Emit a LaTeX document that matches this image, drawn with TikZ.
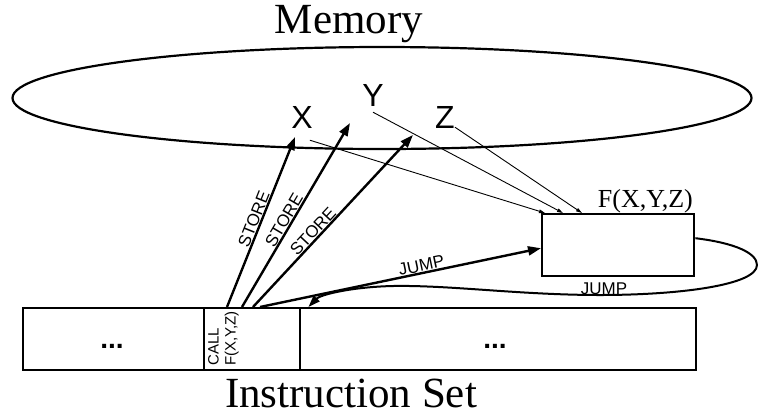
\documentclass[tikz,border=0pt]{standalone}
\usepackage{fontspec}
\setmainfont{Liberation Serif}
\setsansfont{Liberation Sans}
\usetikzlibrary{arrows.meta,shapes.geometric,calc}

\begin{document}
\begin{tikzpicture}[x=1pt,y=-1pt,
  cell/.style={draw, line width=2.4pt, rectangle, inner sep=0pt, anchor=north west, minimum height=62pt},
  var/.style={font=\sffamily\fontsize{32}{32}\selectfont, inner sep=0pt},
  tag/.style={font=\sffamily\fontsize{17}{17}\selectfont, inner sep=0.5pt},
  title/.style={font=\fontsize{43}{43}\selectfont, inner sep=0pt, anchor=base},
  dots/.style={font=\sffamily\bfseries\fontsize{28}{28}\selectfont, inner sep=0pt, anchor=base},
  bigarrow/.style={line width=2.4pt, -{Triangle[length=13pt,width=9pt]}},
  thinarrow/.style={line width=0.9pt, -{Triangle[length=6pt,width=3.5pt]}},
]
\useasboundingbox (0,0) rectangle (758,416);

% memory and its variables
\node[title] (memlabel) at (349,33) {Memory};
\node[draw, ellipse, line width=2.2pt, inner sep=0pt,
      minimum width=739pt, minimum height=102pt] (mem) at (382,98) {};
\node[var] (X) at (302,117) {X};
\node[var] (Y) at (373,95) {Y};
\node[var] (Z) at (445,117) {Z};

% the called function
\node[cell, minimum width=152pt] (fbox) at (541,213) {};
\node[font=\fontsize{26}{26}\selectfont, inner sep=0pt, anchor=base east] (fname) at (693,207) {F(X,Y,Z)};

% instruction set
\node[cell, minimum width=181pt] (lcell) at (22,307) {};
\node[cell, minimum width=96pt] (mcell) at (203,307) {};
\node[cell, minimum width=396pt] (rcell) at (299,307) {};
\node[dots] (ldots) at (112,348) {...};
\node[dots] (rdots) at (495,348) {...};
\node[rotate=90, anchor=south west, inner sep=0pt, align=left,
      font=\sffamily\fontsize{15}{17}\selectfont] (call) at (239,366) {CALL\\F(X,Y,Z)};
\node[title] (islabel) at (351,407) {Instruction Set};

% store arrows from the call into memory
\coordinate (sx) at (295,137);
\coordinate (sy) at (350,123);
\coordinate (sz) at (413,135);
\draw[bigarrow] ($(mcell.north west)+(24,0)$) -- node[tag, sloped, above, pos=0.5] (st1) {STORE} (sx);
\draw[bigarrow] ($(mcell.north west)+(39,0)$) -- node[tag, sloped, above, pos=0.45] (st2) {STORE} (sy);
\draw[bigarrow] ($(mcell.north west)+(50,0)$) -- node[tag, sloped, above, pos=0.41] (st3) {STORE} (sz);

% arguments read by the function
\draw[thinarrow] ($(X.south east)+(-3,12)$) -- ($(fbox.north west)+(4,0)$);
\draw[thinarrow] ($(Y.south)+(0,6)$) -- ($(fbox.north west)+(22,0)$);
\draw[thinarrow] ($(Z.south east)+(0,-1)$) -- ($(fbox.north west)+(41,0)$);

% jump into the function
\draw[bigarrow] ($(mcell.north west)+(57,0)$) -- node[tag, sloped, above, pos=0.58] (j1) {JUMP} ($(fbox.west)+(0,3)$);

% jump back to the caller
\coordinate (ret) at ($(mcell.north east)+(7,0)$);
\draw[line width=2pt, -{Triangle[length=12pt,width=8pt]}]
  ($(fbox.east)+(0,-7)$) .. controls (735,243) and (757,253) .. (757,265)
  .. controls (757,285) and (680,295) .. (600,295)
  .. controls (520,295) and (450,285) .. (393,286)
  .. controls (350,287) and (320,295) .. (ret);
\node[tag, inner sep=0pt, anchor=base] (j2) at (604,294) {JUMP};
\end{tikzpicture}
\end{document}
